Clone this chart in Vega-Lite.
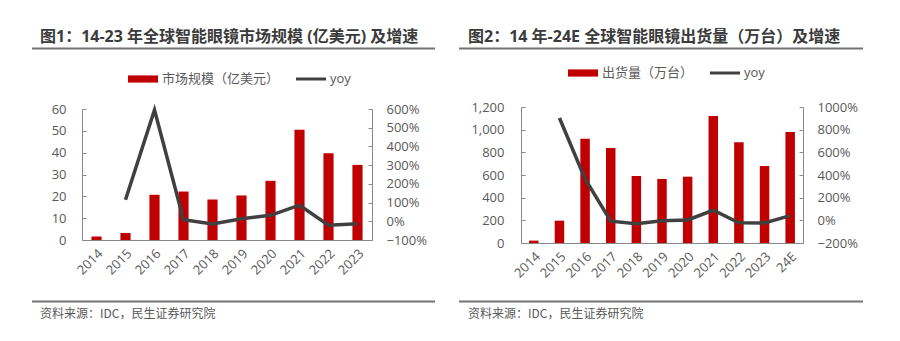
{
  "$schema": "https://vega.github.io/schema/vega-lite/v6.json",
  "padding": {"left": 31, "top": 28, "right": 0, "bottom": 0},
  "background": "white",
  "config": {
    "view": {"stroke": null},
    "font": "Open Sans, Noto Sans CJK SC",
    "axis": {"labelFont": "Open Sans, Noto Sans CJK SC", "labelFontSize": 13, "labelColor": "#595959", "domainColor": "#898989", "tickColor": "#898989", "ticks": false, "grid": false},
    "legend": {"labelFont": "Open Sans, Noto Sans CJK SC"}
  },
  "spacing": 21,
  "resolve": {"scale": {"color": "independent"}, "legend": {"color": "independent"}},
  "hconcat": [
    {
      "spacing": 22,
      "resolve": {"scale": {"color": "independent"}, "legend": {"color": "independent"}},
      "vconcat": [
        {
          "spacing": 14,
          "resolve": {"scale": {"color": "independent"}, "legend": {"color": "independent"}},
          "vconcat": [
            {
              "width": 290,
              "height": 1,
              "title": {"text": "图1：14-23 年全球智能眼镜市场规模 (亿美元) 及增速", "anchor": "start", "frame": "group", "dx": -42, "fontSize": 16, "fontWeight": "bold", "color": "#3b3b3b", "offset": 3, "font": "Open Sans, Noto Sans CJK SC"},
              "data": {"values": [{"a": -50, "b": 353}]},
              "mark": {"type": "rule", "color": "#737373", "strokeWidth": 2},
              "encoding": {
                "x": {"field": "a", "type": "quantitative", "scale": {"domain": [0, 290], "nice": false, "zero": false}, "axis": null},
                "x2": {"field": "b"}
              }
            },
            {
              "width": 290,
              "height": 131,
              "data": {"values": [
                {"year": "2014", "value": 1.6, "yoy": null},
                {"year": "2015", "value": 3.2, "yoy": 1.15},
                {"year": "2016", "value": 20.7, "yoy": 5.95},
                {"year": "2017", "value": 22.2, "yoy": 0.08},
                {"year": "2018", "value": 18.6, "yoy": -0.15},
                {"year": "2019", "value": 20.4, "yoy": 0.13},
                {"year": "2020", "value": 27.1, "yoy": 0.32},
                {"year": "2021", "value": 50.5, "yoy": 0.86},
                {"year": "2022", "value": 39.7, "yoy": -0.21},
                {"year": "2023", "value": 34.4, "yoy": -0.13}
              ]},
              "encoding": {"x": {"field": "year", "type": "nominal", "sort": null, "scale": {"paddingInner": 0.65, "paddingOuter": 0.325}, "axis": {"title": null, "labelAngle": -45, "labelPadding": 7, "labelFontSize": 13, "ticks": false}}},
              "layer": [
                {
                  "mark": {"type": "bar"},
                  "encoding": {
                    "y": {"field": "value", "type": "quantitative", "scale": {"domain": [0, 60], "nice": false}, "axis": {"title": null, "values": [0, 10, 20, 30, 40, 50, 60], "ticks": true, "tickSize": -4, "labelPadding": 20, "minExtent": 45}},
                    "color": {"datum": "市场规模（亿美元）", "type": "nominal", "scale": {"domain": ["市场规模（亿美元）", "yoy"], "range": ["#c00000", "#404040"]},
                      "legend": {"orient": "none", "legendX": 46, "legendY": -45, "direction": "horizontal", "title": null, "symbolSize": 900, "labelFontSize": 13, "labelColor": "#595959", "labelOffset": 4, "columnPadding": 16, "padding": 0, "symbolOpacity": 1,
                        "encode": {"symbols": {"update": {"shape": {"signal": "datum.value === 'yoy' ? 'M-1,-0.1L1,-0.1L1,0.1L-1,0.1Z' : 'M-1,-0.24L1,-0.24L1,0.24L-1,0.24Z'"}, "fill": {"signal": "datum.value === 'yoy' ? '#404040' : '#c00000'"}, "strokeWidth": {"value": 0}}}}}}
                  }
                },
                {
                  "mark": {"type": "line", "strokeWidth": 3.5},
                  "encoding": {
                    "y": {"field": "yoy", "type": "quantitative", "scale": {"domain": [-1, 6], "nice": false}, "axis": {"title": null, "orient": "right", "format": ".0%", "values": [-1, 0, 1, 2, 3, 4, 5, 6], "ticks": true, "tickSize": -4, "labelPadding": 18}},
                    "color": {"datum": "yoy", "type": "nominal"}
                  }
                }
              ],
              "resolve": {"scale": {"y": "independent"}}
            }
          ]
        },
        {
          "width": 290,
          "height": 1,
          "title": {"text": "资料来源：IDC，民生证券研究院", "orient": "bottom", "anchor": "start", "frame": "group", "dx": -42, "fontSize": 12, "fontWeight": "normal", "color": "#595959", "offset": 6, "font": "Noto Sans CJK SC"},
          "data": {"values": [{"a": -50, "b": 353}]},
          "mark": {"type": "rule", "color": "#737373", "strokeWidth": 2},
          "encoding": {
            "x": {"field": "a", "type": "quantitative", "scale": {"domain": [0, 290], "nice": false, "zero": false}, "axis": null},
            "x2": {"field": "b"}
          }
        }
      ]
    },
    {
      "spacing": 19,
      "resolve": {"scale": {"color": "independent"}, "legend": {"color": "independent"}},
      "vconcat": [
        {
          "spacing": 8,
          "resolve": {"scale": {"color": "independent"}, "legend": {"color": "independent"}},
          "vconcat": [
            {
              "width": 282,
              "height": 1,
              "title": {"text": "图2：14 年-24E 全球智能眼镜出货量（万台）及增速", "anchor": "start", "frame": "group", "dx": -53, "fontSize": 16, "fontWeight": "bold", "color": "#3b3b3b", "offset": 3, "font": "Open Sans, Noto Sans CJK SC"},
              "data": {"values": [{"a": -62, "b": 342}]},
              "mark": {"type": "rule", "color": "#737373", "strokeWidth": 2},
              "encoding": {
                "x": {"field": "a", "type": "quantitative", "scale": {"domain": [0, 282], "nice": false, "zero": false}, "axis": null},
                "x2": {"field": "b"}
              }
            },
            {
              "width": 282,
              "height": 136,
              "data": {"values": [
                {"year": "2014", "value": 21, "yoy": null},
                {"year": "2015", "value": 197, "yoy": 9.03},
                {"year": "2016", "value": 920, "yoy": 3.65},
                {"year": "2017", "value": 838, "yoy": -0.07},
                {"year": "2018", "value": 591, "yoy": -0.31},
                {"year": "2019", "value": 565, "yoy": -0.03},
                {"year": "2020", "value": 585, "yoy": 0.03},
                {"year": "2021", "value": 1120, "yoy": 0.89},
                {"year": "2022", "value": 888, "yoy": -0.21},
                {"year": "2023", "value": 679, "yoy": -0.24},
                {"year": "24E", "value": 979, "yoy": 0.42}
              ]},
              "encoding": {"x": {"field": "year", "type": "nominal", "sort": null, "scale": {"paddingInner": 0.63, "paddingOuter": 0.315}, "axis": {"title": null, "labelAngle": -45, "labelPadding": 7, "labelFontSize": 13, "ticks": false}}},
              "layer": [
                {
                  "mark": {"type": "bar"},
                  "encoding": {
                    "y": {"field": "value", "type": "quantitative", "scale": {"domain": [0, 1200], "nice": false}, "axis": {"title": null, "values": [0, 200, 400, 600, 800, 1000, 1200], "format": ",.0f", "ticks": true, "tickSize": -4, "labelPadding": 21, "minExtent": 55}},
                    "color": {"datum": "出货量（万台）", "type": "nominal", "scale": {"domain": ["出货量（万台）", "yoy"], "range": ["#c00000", "#404040"]},
                      "legend": {"orient": "none", "legendX": 47, "legendY": -49, "direction": "horizontal", "title": null, "symbolSize": 900, "labelFontSize": 13, "labelColor": "#595959", "labelOffset": 4, "columnPadding": 16, "padding": 0, "symbolOpacity": 1,
                        "encode": {"symbols": {"update": {"shape": {"signal": "datum.value === 'yoy' ? 'M-1,-0.1L1,-0.1L1,0.1L-1,0.1Z' : 'M-1,-0.24L1,-0.24L1,0.24L-1,0.24Z'"}, "fill": {"signal": "datum.value === 'yoy' ? '#404040' : '#c00000'"}, "strokeWidth": {"value": 0}}}}}}
                  }
                },
                {
                  "mark": {"type": "line", "strokeWidth": 3.5},
                  "encoding": {
                    "y": {"field": "yoy", "type": "quantitative", "scale": {"domain": [-2, 10], "nice": false}, "axis": {"title": null, "orient": "right", "format": ".0%", "values": [-2, 0, 2, 4, 6, 8, 10], "ticks": true, "tickSize": -4, "labelPadding": 18}},
                    "color": {"datum": "yoy", "type": "nominal"}
                  }
                }
              ],
              "resolve": {"scale": {"y": "independent"}}
            }
          ]
        },
        {
          "width": 282,
          "height": 1,
          "title": {"text": "资料来源：IDC，民生证券研究院", "orient": "bottom", "anchor": "start", "frame": "group", "dx": -53, "fontSize": 12, "fontWeight": "normal", "color": "#595959", "offset": 6, "font": "Noto Sans CJK SC"},
          "data": {"values": [{"a": -62, "b": 342}]},
          "mark": {"type": "rule", "color": "#737373", "strokeWidth": 2},
          "encoding": {
            "x": {"field": "a", "type": "quantitative", "scale": {"domain": [0, 282], "nice": false, "zero": false}, "axis": null},
            "x2": {"field": "b"}
          }
        }
      ]
    }
  ]
}
